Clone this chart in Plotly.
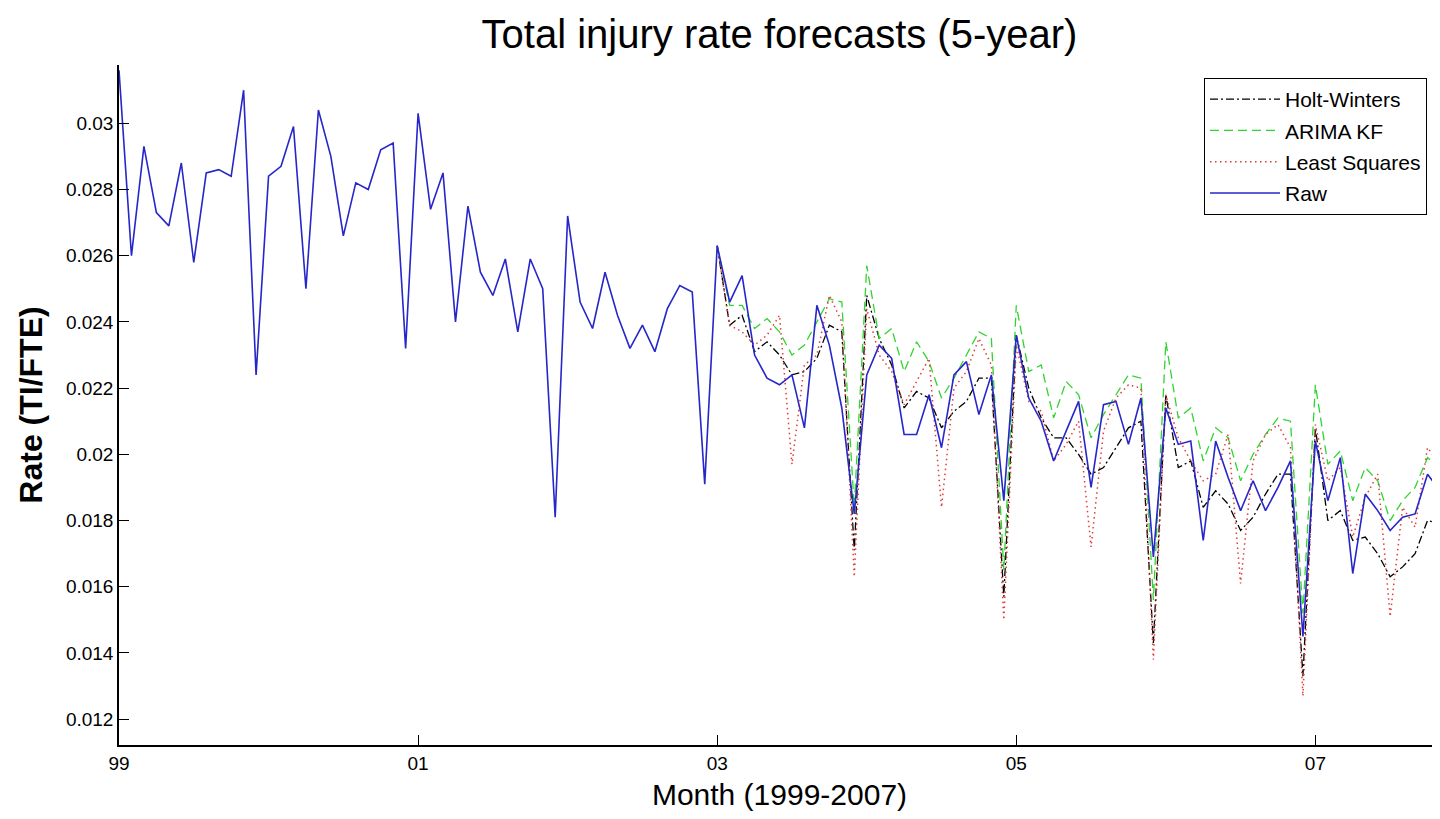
import plotly.graph_objects as go

# Month index (0 = Jan 1999)
raw_months = list(range(0, 107))
raw = [
    0.0316, 0.0260, 0.0293, 0.0273, 0.0269, 0.0288, 0.0258, 0.0285, 0.0286, 0.0284,
    0.0310, 0.0224, 0.0284, 0.0287, 0.0299, 0.0250, 0.0304, 0.0290, 0.0266, 0.0282,
    0.0280, 0.0292, 0.0294, 0.0232, 0.0303, 0.0274, 0.0285, 0.0240, 0.0275, 0.0255,
    0.0248, 0.0259, 0.0237, 0.0259, 0.0250, 0.0181, 0.0272, 0.0246, 0.0238, 0.0255,
    0.0242, 0.0232, 0.0239, 0.0231, 0.0244, 0.0251, 0.0249, 0.0191, 0.0263, 0.0246,
    0.0254, 0.0230, 0.0223, 0.0221, 0.0224, 0.0208, 0.0245, 0.0233, 0.0214, 0.0182,
    0.0224, 0.0233, 0.0229, 0.0206, 0.0206, 0.0218, 0.0202, 0.0224, 0.0228, 0.0212,
    0.0224, 0.0186, 0.0236, 0.0217, 0.0210, 0.0198, 0.0207, 0.0216, 0.0190, 0.0215,
    0.0216, 0.0203, 0.0217, 0.0169, 0.0214, 0.0203, 0.0204, 0.0174, 0.0204, 0.0193,
    0.0183, 0.0192, 0.0183, 0.0190, 0.0198, 0.0145, 0.0204, 0.0186, 0.0199, 0.0164,
    0.0188, 0.0183, 0.0177, 0.0181, 0.0182, 0.0194, 0.0189,
]

fc_months = list(range(48, 107))
holt_winters = [
    0.0263, 0.0239, 0.0242, 0.0231, 0.0234, 0.0230, 0.0224, 0.0225, 0.0229, 0.0239,
    0.0237, 0.0171, 0.0248, 0.0235, 0.0227, 0.0214, 0.0219, 0.0217, 0.0208, 0.0213,
    0.0216, 0.0223, 0.0223, 0.0157, 0.0236, 0.0220, 0.0211, 0.0205, 0.0205, 0.0200,
    0.0194, 0.0196, 0.0202, 0.0208, 0.0210, 0.0143, 0.0218, 0.0196, 0.0198, 0.0184,
    0.0189, 0.0185, 0.0177, 0.0181, 0.0188, 0.0194, 0.0194, 0.0133, 0.0208, 0.0180,
    0.0183, 0.0174, 0.0175, 0.0170, 0.0163, 0.0166, 0.0170, 0.0180, 0.0179,
]
arima_kf = [
    0.0263, 0.0245, 0.0245, 0.0238, 0.0241, 0.0237, 0.0230, 0.0233, 0.0240, 0.0247,
    0.0246, 0.0184, 0.0257, 0.0235, 0.0238, 0.0225, 0.0234, 0.0228, 0.0217, 0.0223,
    0.0230, 0.0237, 0.0235, 0.0165, 0.0245, 0.0225, 0.0227, 0.0211, 0.0222, 0.0218,
    0.0205, 0.0212, 0.0218, 0.0224, 0.0223, 0.0156, 0.0234, 0.0211, 0.0214, 0.0198,
    0.0208, 0.0205, 0.0192, 0.0200, 0.0206, 0.0211, 0.0210, 0.0152, 0.0221, 0.0197,
    0.0201, 0.0186, 0.0196, 0.0192, 0.0180, 0.0186, 0.0190, 0.0199, 0.0196,
]
least_squares = [
    0.0263, 0.0239, 0.0237, 0.0233, 0.0236, 0.0242, 0.0197, 0.0227, 0.0230, 0.0248,
    0.0240, 0.0163, 0.0244, 0.0230, 0.0225, 0.0215, 0.0222, 0.0229, 0.0184, 0.0220,
    0.0225, 0.0235, 0.0227, 0.0150, 0.0233, 0.0216, 0.0213, 0.0198, 0.0203, 0.0210,
    0.0172, 0.0207, 0.0217, 0.0221, 0.0220, 0.0138, 0.0218, 0.0205, 0.0198, 0.0192,
    0.0194, 0.0206, 0.0161, 0.0198, 0.0206, 0.0209, 0.0202, 0.0127, 0.0209, 0.0192,
    0.0196, 0.0175, 0.0187, 0.0194, 0.0151, 0.0184, 0.0178, 0.0202, 0.0197,
]

x_tick_vals = [0, 24, 48, 72, 96]
x_tick_text = ["99", "01", "03", "05", "07"]
y_tick_vals = [0.012, 0.014, 0.016, 0.018, 0.020, 0.022, 0.024, 0.026, 0.028, 0.030]
y_tick_text = ["0.012", "0.014", "0.016", "0.018", "0.02", "0.022", "0.024", "0.026", "0.028", "0.03"]

FONT = "Liberation Sans, Arial, sans-serif"
FIG_W, FIG_H = 1432, 803   # page body has an 8px margin

fig = go.Figure()
fig.add_trace(go.Scatter(
    x=fc_months, y=holt_winters, mode="lines", name="Holt-Winters", legendgroup="a",
    line=dict(color="#000000", width=1.3, dash="8px,3px,2px,3px"),
))
fig.add_trace(go.Scatter(
    x=fc_months, y=arima_kf, mode="lines", name="ARIMA KF", legendgroup="b",
    line=dict(color="#2fd42f", width=1.3, dash="9px,5px"),
))
fig.add_trace(go.Scatter(
    x=fc_months, y=least_squares, mode="lines", name="Least Squares", legendgroup="c",
    line=dict(color="#e03a3a", width=1.5, dash="1.5px,3.5px"),
))
fig.add_trace(go.Scatter(
    x=raw_months, y=raw, mode="lines", name="Raw", legendgroup="d",
    line=dict(color="#2626c9", width=1.6),
))

fig.update_layout(
    width=FIG_W, height=FIG_H,
    paper_bgcolor="white", plot_bgcolor="white",
    margin=dict(l=111, r=0, t=57, b=66),
    font=dict(family=FONT, color="black", size=19),
    title=dict(
        text="Total injury rate forecasts (5-year)",
        x=0.5, xref="paper", xanchor="center",
        y=1 - 26 / FIG_H, yref="container", yanchor="middle",
        font=dict(size=40, family=FONT, color="black"),
    ),
    xaxis=dict(
        range=[0, 106], tickvals=x_tick_vals, ticktext=x_tick_text,
        showline=True, linecolor="black", linewidth=1.5, mirror=False,
        ticks="inside", ticklen=10, tickcolor="black", tickwidth=1,
        showgrid=False, zeroline=False,
        tickfont=dict(size=19, family=FONT),
        title=dict(text="Month (1999-2007)", font=dict(size=30, family=FONT), standoff=13),
    ),
    yaxis=dict(
        range=[0.01122, 0.03176], tickvals=y_tick_vals, ticktext=y_tick_text,
        showline=True, linecolor="black", linewidth=1.5, mirror=False,
        ticks="inside", ticklen=10, tickcolor="black", tickwidth=1,
        showgrid=False, zeroline=False,
        tickfont=dict(size=19, family=FONT),
        title=dict(text="<b>Rate (TI/FTE)</b>", font=dict(size=32, family=FONT), standoff=14),
    ),
    legend=dict(
        x=(1204 - 119) / 1321, xanchor="left",
        y=(745 - 78) / 680, yanchor="top",
        bgcolor="white", bordercolor="black", borderwidth=1,
        font=dict(size=21, family=FONT),
        itemwidth=70, tracegroupgap=1,
    ),
    showlegend=True,
)

fig.write_html("out.html")
